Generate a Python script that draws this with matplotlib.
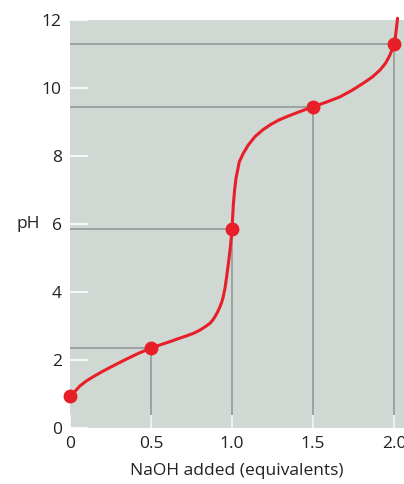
import matplotlib.pyplot as plt

# titration curve (equivalents of NaOH, pH)
curve_x = [0.0, 0.015, 0.031, 0.062, 0.10, 0.144, 0.195, 0.247, 0.30, 0.35, 0.42,
           0.5, 0.56, 0.617, 0.67, 0.72, 0.765, 0.802, 0.835, 0.864, 0.882,
           0.897, 0.912, 0.926, 0.937, 0.946, 0.957, 0.967, 0.978, 0.988,
           0.995, 1.0, 1.003, 1.008, 1.016, 1.025, 1.045, 1.07, 1.10, 1.142,
           1.193, 1.24, 1.29, 1.345, 1.41, 1.50, 1.58, 1.667, 1.74, 1.81,
           1.865, 1.914, 1.948, 1.975, 2.0, 2.010, 2.016, 2.022]
curve_ph = [0.95, 1.02, 1.08, 1.24, 1.38, 1.51, 1.65, 1.78, 1.91, 2.03, 2.19,
            2.35, 2.45, 2.54, 2.63, 2.71, 2.79, 2.88, 2.98, 3.08, 3.18,
            3.29, 3.42, 3.57, 3.71, 3.86, 4.12, 4.45, 4.85, 5.24,
            5.58, 5.85, 6.12, 6.55, 7.0, 7.35, 7.83, 8.08, 8.32, 8.57,
            8.78, 8.93, 9.06, 9.17, 9.29, 9.45, 9.58, 9.74, 9.93, 10.14,
            10.32, 10.53, 10.73, 10.97, 11.28, 11.55, 11.80, 12.05]

# marked points
pts_x = [0.0, 0.5, 1.0, 1.5, 2.0]
pts_ph = [0.95, 2.35, 5.85, 9.45, 11.28]

red = '#e81e28'
grey = '#8e9493'

fig = plt.figure(figsize=(4.04, 4.84), dpi=100)
ax = fig.add_axes([70 / 404, 56 / 484, 334 / 404, 408 / 484])
ax.set_facecolor('#cfd8d3')
for s in ax.spines.values():
    s.set_visible(False)

ax.set_xlim(0, 334 / 162)
ax.set_ylim(0, 12)

# guide lines from each marked point to the axes
for x, y in zip(pts_x[1:], pts_ph[1:]):
    ax.plot([0, x], [y, y], color=grey, lw=1.1, zorder=1)
    ax.plot([x, x], [0, y], color=grey, lw=1.1, zorder=1)

ax.plot(curve_x, curve_ph, color=red, lw=2.2, zorder=3, clip_on=False,
        solid_capstyle='round', solid_joinstyle='round')
ax.plot(pts_x, pts_ph, 'o', color=red, ms=9, zorder=4, clip_on=False)

ax.set_xticks([0, 0.5, 1.0, 1.5, 2.0])
ax.set_xticklabels(['0', '0.5', '1.0', '1.5', '2.0'])
ax.set_yticks([0, 2, 4, 6, 8, 10, 12])
ax.tick_params(axis='y', direction='in', length=13, width=1.2, color='white',
               pad=6, labelsize=12.5, labelcolor='#222222')
ax.tick_params(axis='x', direction='in', length=9.5, width=1.2, color='white',
               pad=6, labelsize=12.5, labelcolor='#222222')
for t in ax.xaxis.get_major_ticks() + ax.yaxis.get_major_ticks():
    t.tick1line.set_zorder(5)
ax.set_axisbelow(False)
for lab in ax.get_xticklabels() + ax.get_yticklabels():
    lab.set_fontfamily('Open Sans')

ax.set_xlabel('NaOH added (equivalents)', fontsize=12.5, family='Open Sans',
              color='#222222', labelpad=8)
ax.text(-0.125, 6, 'pH', transform=ax.get_yaxis_transform(), ha='center',
        va='center', fontsize=12.5, family='Open Sans', color='#222222')

fig.savefig('out.png', dpi=100)
